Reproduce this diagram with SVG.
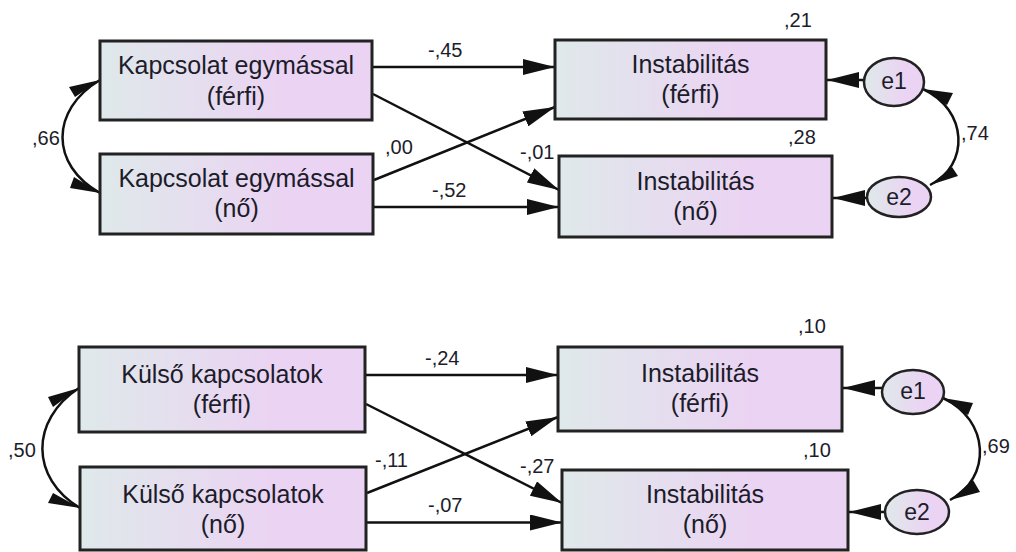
<svg xmlns="http://www.w3.org/2000/svg" width="1016" height="552" viewBox="0 0 1016 552">
<defs>
<linearGradient id="g" x1="0" y1="0" x2="1" y2="0">
<stop offset="0" stop-color="#dfe9ea"/>
<stop offset="0.7" stop-color="#ebd3f3"/>
<stop offset="1" stop-color="#ebd3f3"/>
</linearGradient>
<marker id="ah" markerUnits="userSpaceOnUse" markerWidth="32" markerHeight="16" refX="32" refY="8" orient="auto" viewBox="0 0 32 16">
<path d="M0,0 L32,8 L0,16 z" fill="#111"/>
</marker>
<style>
.box{fill:url(#g);stroke:#222;stroke-width:3}
.ell{fill:url(#g);stroke:#222;stroke-width:2.5}
.lbl{font-family:"Liberation Sans",Arial,sans-serif;font-size:25px;fill:#1c1c2a;text-anchor:middle}
.el{font-family:"Liberation Sans",Arial,sans-serif;font-size:23px;fill:#1c1c2a;text-anchor:middle}
.num{font-family:"Liberation Sans",Arial,sans-serif;font-size:20px;fill:#1c1c2a}
.ln{stroke:#111;stroke-width:2.5;fill:none;marker-end:url(#ah)}
.cv{stroke:#111;stroke-width:2.5;fill:none}
.hh{fill:#111}
</style>
</defs>
<rect width="1016" height="552" fill="#fff"/>

<g id="connectors">
<line class="ln" x1="372" y1="67" x2="555" y2="67"/>
<line class="ln" x1="373" y1="94" x2="559" y2="190"/>
<line class="ln" x1="374" y1="180" x2="555" y2="107"/>
<line class="ln" x1="373" y1="207" x2="559" y2="207"/>
<line class="ln" x1="864" y1="80" x2="827" y2="80"/>
<line class="ln" x1="867" y1="198" x2="833" y2="198"/>
<path class="cv" d="M100,80 C50,110 50,165 100,193"/>
<polygon class="hh" points="100,80 69,87 75,97"/>
<polygon class="hh" points="100,193 70,188 74,177"/>
<path class="cv" d="M923,89 C968,110 970,165 930,185"/>
<polygon class="hh" points="923,89 953,93 947,105"/>
<polygon class="hh" points="930,185 958,176 952,167"/>

<line class="ln" x1="365" y1="375" x2="558" y2="375"/>
<line class="ln" x1="366" y1="404" x2="562" y2="503"/>
<line class="ln" x1="367" y1="493" x2="558" y2="417"/>
<line class="ln" x1="366" y1="522.5" x2="562" y2="522.5"/>
<line class="ln" x1="882" y1="388" x2="843" y2="388"/>
<line class="ln" x1="885" y1="512" x2="849" y2="512"/>
<path class="cv" d="M79,388 C30,420 30,478 80,508"/>
<polygon class="hh" points="79,388 48,397 53,407"/>
<polygon class="hh" points="80,508 48,503 53,493"/>
<path class="cv" d="M943,398 C990,420 992,478 950,500"/>
<polygon class="hh" points="943,398 973,403 968,415"/>
<polygon class="hh" points="950,500 980,492 973,480"/>
</g>

<g id="kap_ferfi">
<rect class="box" x="100" y="41" width="272" height="79"/>
<text class="lbl" x="236" y="74">Kapcsolat egymással</text>
<text class="lbl" x="236" y="105">(férfi)</text>
</g>
<g id="kap_no">
<rect class="box" x="100" y="154" width="273" height="80"/>
<text class="lbl" x="236.5" y="187">Kapcsolat egymással</text>
<text class="lbl" x="236.5" y="217">(nő)</text>
</g>
<g id="inst_ferfi_1">
<rect class="box" x="555" y="40" width="271" height="79"/>
<text class="lbl" x="690.5" y="73">Instabilitás</text>
<text class="lbl" x="690.5" y="103">(férfi)</text>
</g>
<g id="inst_no_1">
<rect class="box" x="559" y="156" width="273" height="81"/>
<text class="lbl" x="695.5" y="190">Instabilitás</text>
<text class="lbl" x="695.5" y="220">(nő)</text>
</g>
<g id="e1_1">
<ellipse class="ell" cx="894" cy="82" rx="30" ry="24"/>
<text class="el" x="894" y="89">e1</text>
</g>
<g id="e2_1">
<ellipse class="ell" cx="899" cy="197" rx="32" ry="20"/>
<text class="el" x="899" y="205">e2</text>
</g>

<g id="kulso_ferfi">
<rect class="box" x="79" y="347" width="286" height="85"/>
<text class="lbl" x="222" y="383">Külső kapcsolatok</text>
<text class="lbl" x="222" y="413">(férfi)</text>
</g>
<g id="kulso_no">
<rect class="box" x="80" y="467" width="286" height="83"/>
<text class="lbl" x="223" y="503">Külső kapcsolatok</text>
<text class="lbl" x="223" y="533">(nő)</text>
</g>
<g id="inst_ferfi_2">
<rect class="box" x="558" y="347" width="284" height="84"/>
<text class="lbl" x="700" y="382">Instabilitás</text>
<text class="lbl" x="700" y="412">(férfi)</text>
</g>
<g id="inst_no_2">
<rect class="box" x="562" y="470" width="286" height="80"/>
<text class="lbl" x="705" y="503">Instabilitás</text>
<text class="lbl" x="705" y="533">(nő)</text>
</g>
<g id="e1_2">
<ellipse class="ell" cx="913" cy="392" rx="31" ry="22"/>
<text class="el" x="913" y="399">e1</text>
</g>
<g id="e2_2">
<ellipse class="ell" cx="917" cy="512" rx="32" ry="22"/>
<text class="el" x="917" y="520">e2</text>
</g>

<g id="labels">
<text class="num" x="428" y="57">-,45</text>
<text class="num" x="32" y="145">,66</text>
<text class="num" x="385" y="154">,00</text>
<text class="num" x="432" y="197">-,52</text>
<text class="num" x="784" y="27">,21</text>
<text class="num" x="788" y="144">,28</text>
<text class="num" x="961" y="140">,74</text>
<text class="num" x="520" y="159">-,01</text>
<text class="num" x="425" y="365">-,24</text>
<text class="num" x="8" y="457">,50</text>
<text class="num" x="375" y="467">-,11</text>
<text class="num" x="428" y="512">-,07</text>
<text class="num" x="798" y="333">,10</text>
<text class="num" x="803" y="457">,10</text>
<text class="num" x="982" y="453">,69</text>
<text class="num" x="520" y="473">-,27</text>
</g>
</svg>
